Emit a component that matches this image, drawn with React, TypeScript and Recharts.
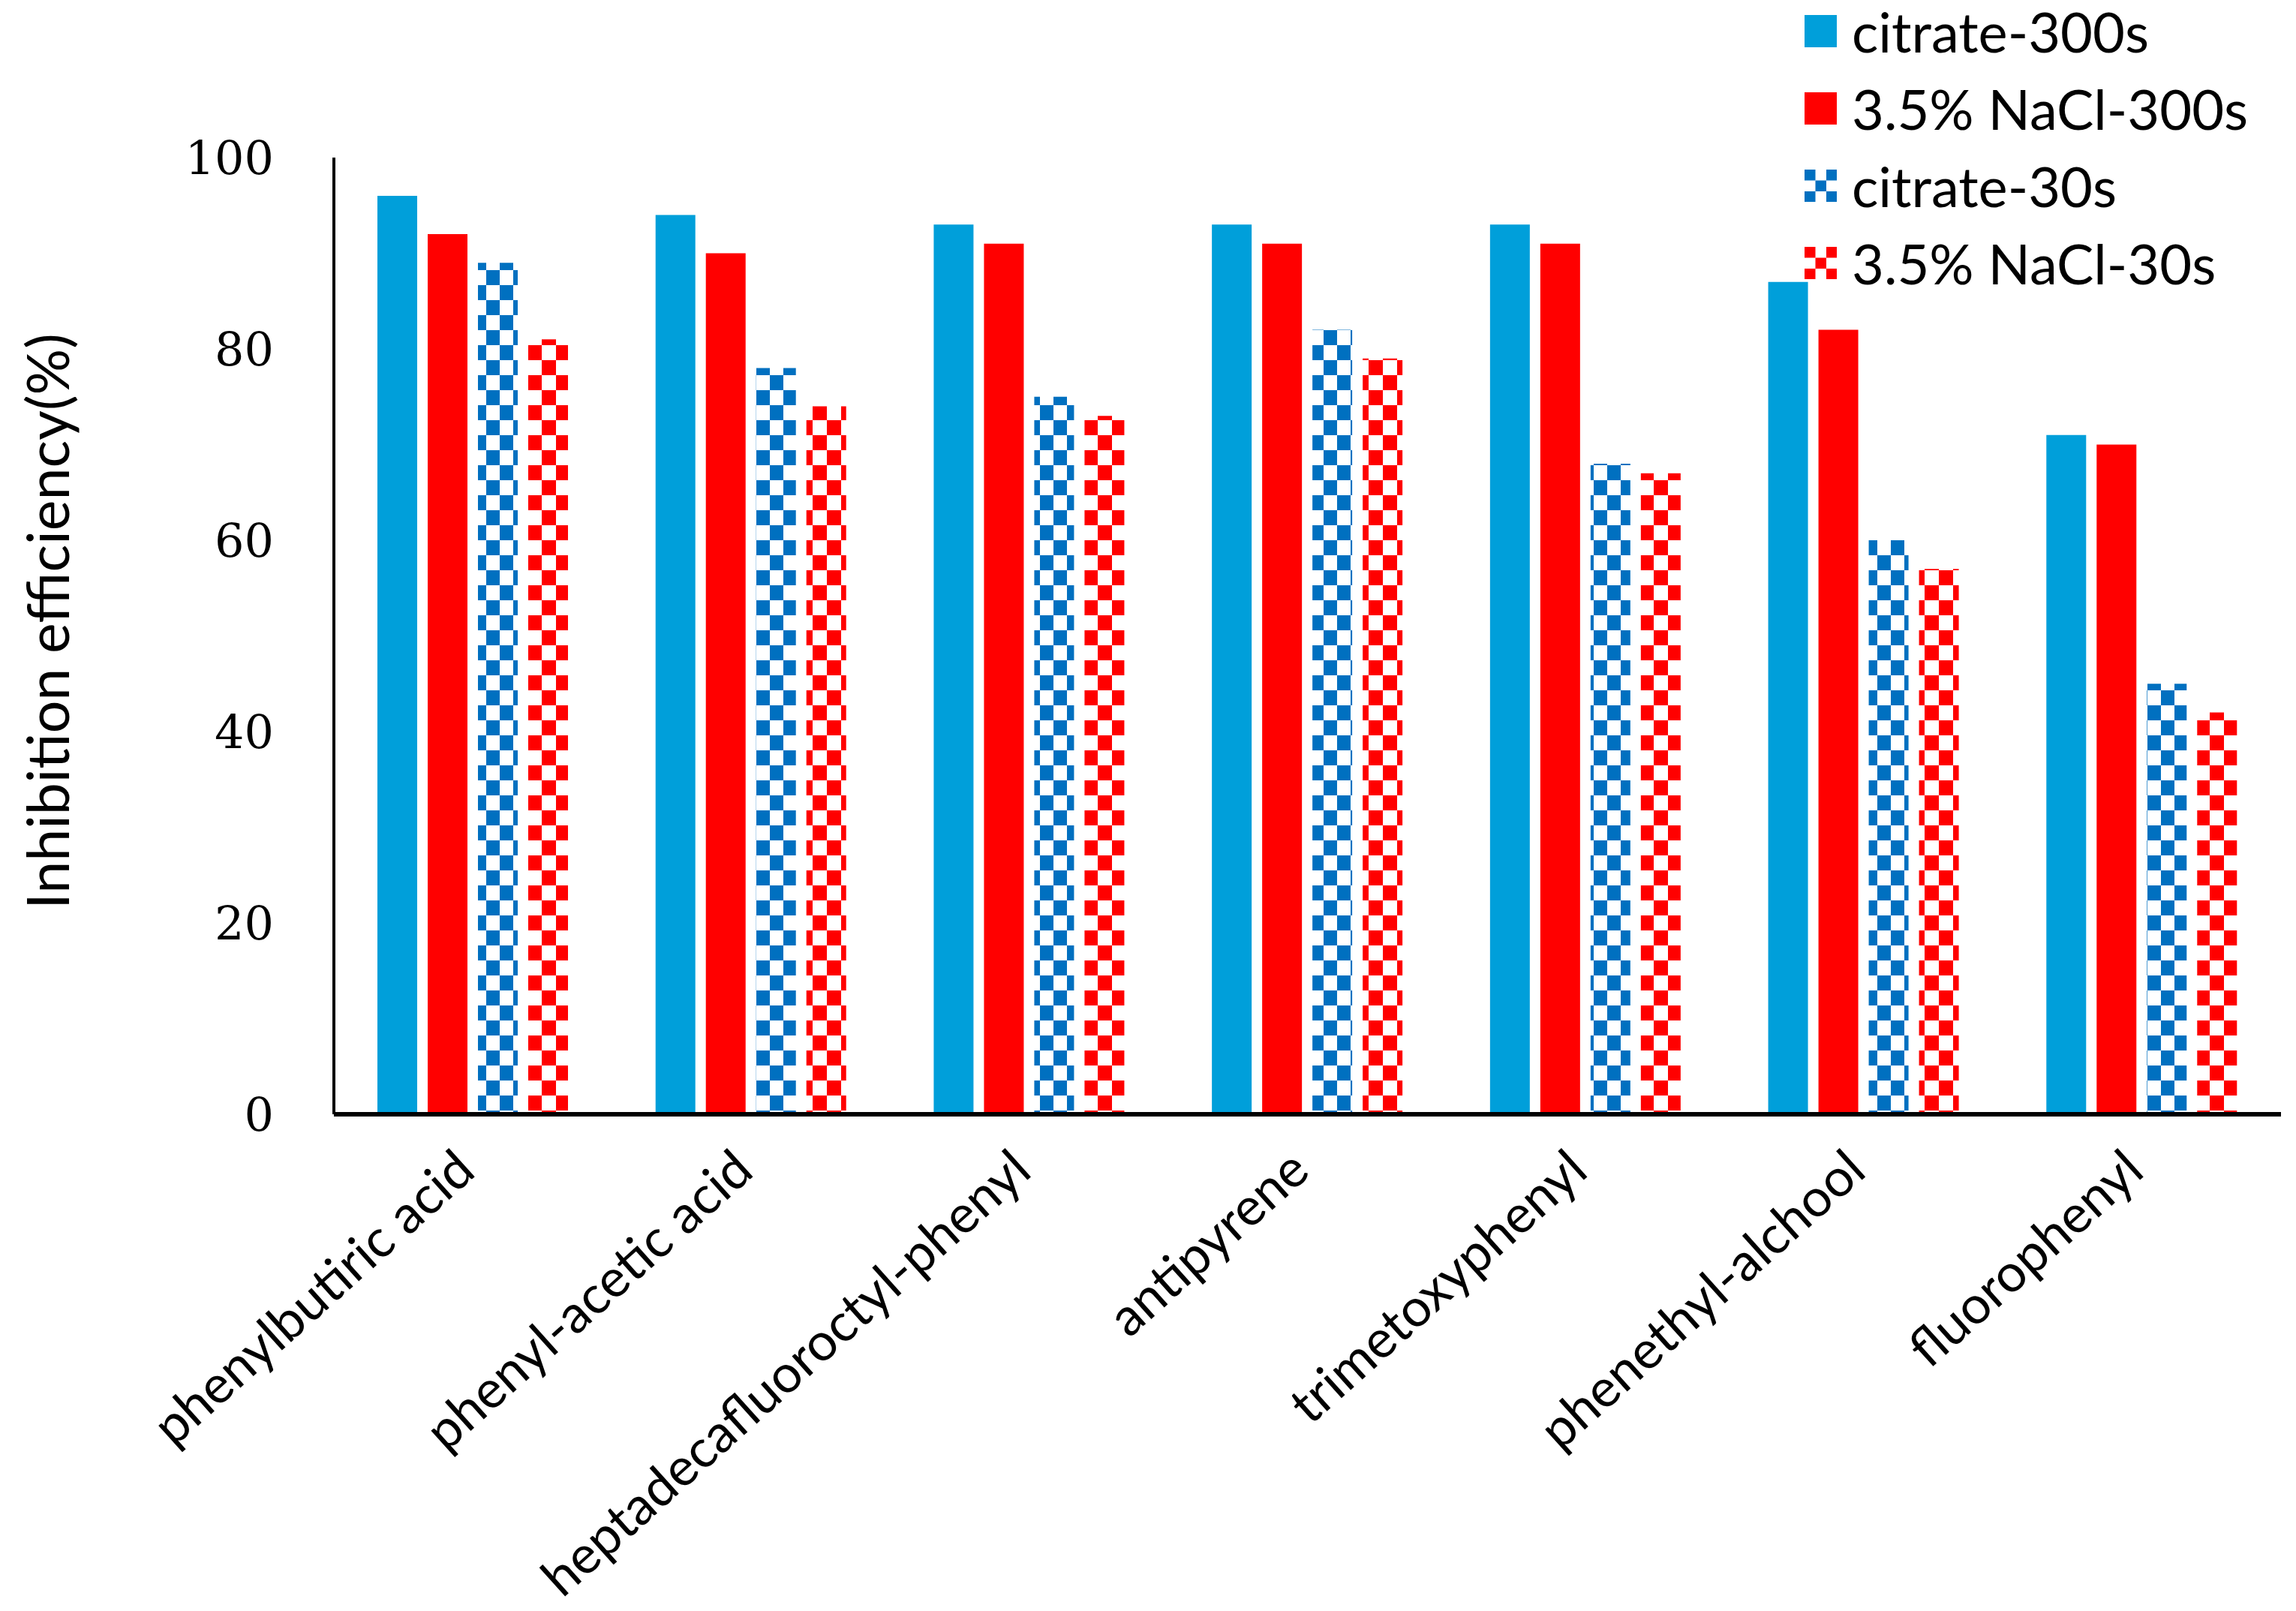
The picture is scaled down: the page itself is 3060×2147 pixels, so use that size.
import React from 'react';
import { BarChart, Bar, XAxis, YAxis, Legend } from 'recharts';

const categories = [
  'phenylbutiric acid',
  'phenyl-acetic acid',
  'heptadecafluoroctyl-phenyl',
  'antipyrene',
  'trimetoxyphenyl',
  'phenethyl-alchool',
  'fluorophenyl',
];
const citrate300 = [96, 94, 93, 93, 93, 87, 71];
const nacl300 = [92, 90, 91, 91, 91, 82, 70];
const citrate30 = [89, 78, 75, 82, 68, 60, 45];
const nacl30 = [81, 74, 73, 79, 67, 57, 42];
const yTicks = [0, 20, 40, 60, 80, 100];

const BLUE = '#009FDA';
const RED = '#FF0000';
const DARK_BLUE = '#0070C0';

const series = [
  { key: 'c300', name: 'citrate-300s', fill: BLUE, pattern: null },
  { key: 'n300', name: '3.5% NaCl-300s', fill: RED, pattern: null },
  { key: 'c30', name: 'citrate-30s', fill: 'url(#chkBlue)', pattern: DARK_BLUE },
  { key: 'n30', name: '3.5% NaCl-30s', fill: 'url(#chkRed)', pattern: RED },
];

const data = categories.map((name, i) => ({
  name,
  c300: citrate300[i],
  n300: nacl300[i],
  c30: citrate30[i],
  n30: nacl30[i],
}));

const FONT = 'Lato, "Open Sans", sans-serif';

const XTick = (props: any) => {
  const { x, y, payload } = props;
  const px = x + 6;
  const py = y + 80;
  return (
    <text
      x={px}
      y={py}
      transform={`rotate(-42 ${px} ${py})`}
      textAnchor="end"
      fontFamily={FONT}
      fontSize={70}
      fill="#000"
    >
      {payload.value}
    </text>
  );
};

const YTick = (props: any) => {
  const { x, y, payload } = props;
  return (
    <text x={x} y={y} dy="0.36em" textAnchor="end" fontFamily='"DejaVu Serif", serif' fontSize={62} fill="#000">
      {payload.value}
    </text>
  );
};

const YLabel = () => (
  <text
    x={62}
    y={828}
    transform="rotate(-90 62 828)"
    textAnchor="middle"
    dominantBaseline="central"
    fontFamily={FONT}
    fontSize={77}
    fill="#000"
  >
    Inhibition efficiency(%)
  </text>
);

const Swatch = ({ s }: { s: any }) => {
  const id = `lg-${s.key}`;
  return (
    <svg width={43} height={43} style={{ display: 'block' }}>
      {s.pattern && (
        <defs>
          <pattern id={id} patternUnits="userSpaceOnUse" width={29} height={29}>
            <rect width={29} height={29} fill="#fff" />
            <rect x={0} y={0} width={14.5} height={14.5} fill={s.pattern} />
            <rect x={14.5} y={14.5} width={14.5} height={14.5} fill={s.pattern} />
          </pattern>
        </defs>
      )}
      <rect width={43} height={43} fill={s.pattern ? `url(#${id})` : s.fill} />
    </svg>
  );
};

const LegendContent = () => (
  <div style={{ fontFamily: FONT, fontSize: 74, color: '#000' }}>
    {series.map((s) => (
      <div key={s.key} style={{ display: 'flex', alignItems: 'center', height: 103 }}>
        <Swatch s={s} />
        <span style={{ marginLeft: 20, lineHeight: 1 }}>{s.name}</span>
      </div>
    ))}
  </div>
);

export default function App() {
  return (
    <div style={{ position: 'absolute', left: 0, top: 0, width: 3060, height: 2147, background: '#fff' }}>
      <BarChart
        width={3060}
        height={2147}
        data={data}
        margin={{ top: 210, right: 20, left: 0, bottom: 0 }}
        barSize={53}
        barGap={14}
      >
        <defs>
          <pattern id="chkBlue" patternUnits="userSpaceOnUse" width={36} height={40}>
            <rect width={36} height={40} fill="#fff" />
            <rect x={0} y={0} width={18} height={20} fill={DARK_BLUE} />
            <rect x={18} y={20} width={18} height={20} fill={DARK_BLUE} />
          </pattern>
          <pattern id="chkRed" patternUnits="userSpaceOnUse" width={38} height={40}>
            <rect width={38} height={40} fill="#fff" />
            <rect x={0} y={0} width={19} height={20} fill={RED} />
            <rect x={19} y={20} width={19} height={20} fill={RED} />
          </pattern>
        </defs>
        <XAxis
          dataKey="name"
          height={662}
          interval={0}
          tickLine={false}
          tickSize={0}
          tickMargin={0}
          axisLine={{ stroke: '#000', strokeWidth: 6 }}
          tick={<XTick />}
        />
        <YAxis
          width={445}
          domain={[0, 100]}
          ticks={yTicks}
          tickLine={false}
          tickSize={0}
          tickMargin={80}
          axisLine={{ stroke: '#000', strokeWidth: 4 }}
          tick={<YTick />}
          label={<YLabel />}
        />
        <Legend
          layout="vertical"
          align="center"
          verticalAlign="middle"
          wrapperStyle={{ left: 2405, top: -10, width: 650 }}
          content={<LegendContent />}
        />
        {series.map((s) => (
          <Bar key={s.key} dataKey={s.key} name={s.name} fill={s.fill} isAnimationActive={false} />
        ))}
      </BarChart>
    </div>
  );
}
